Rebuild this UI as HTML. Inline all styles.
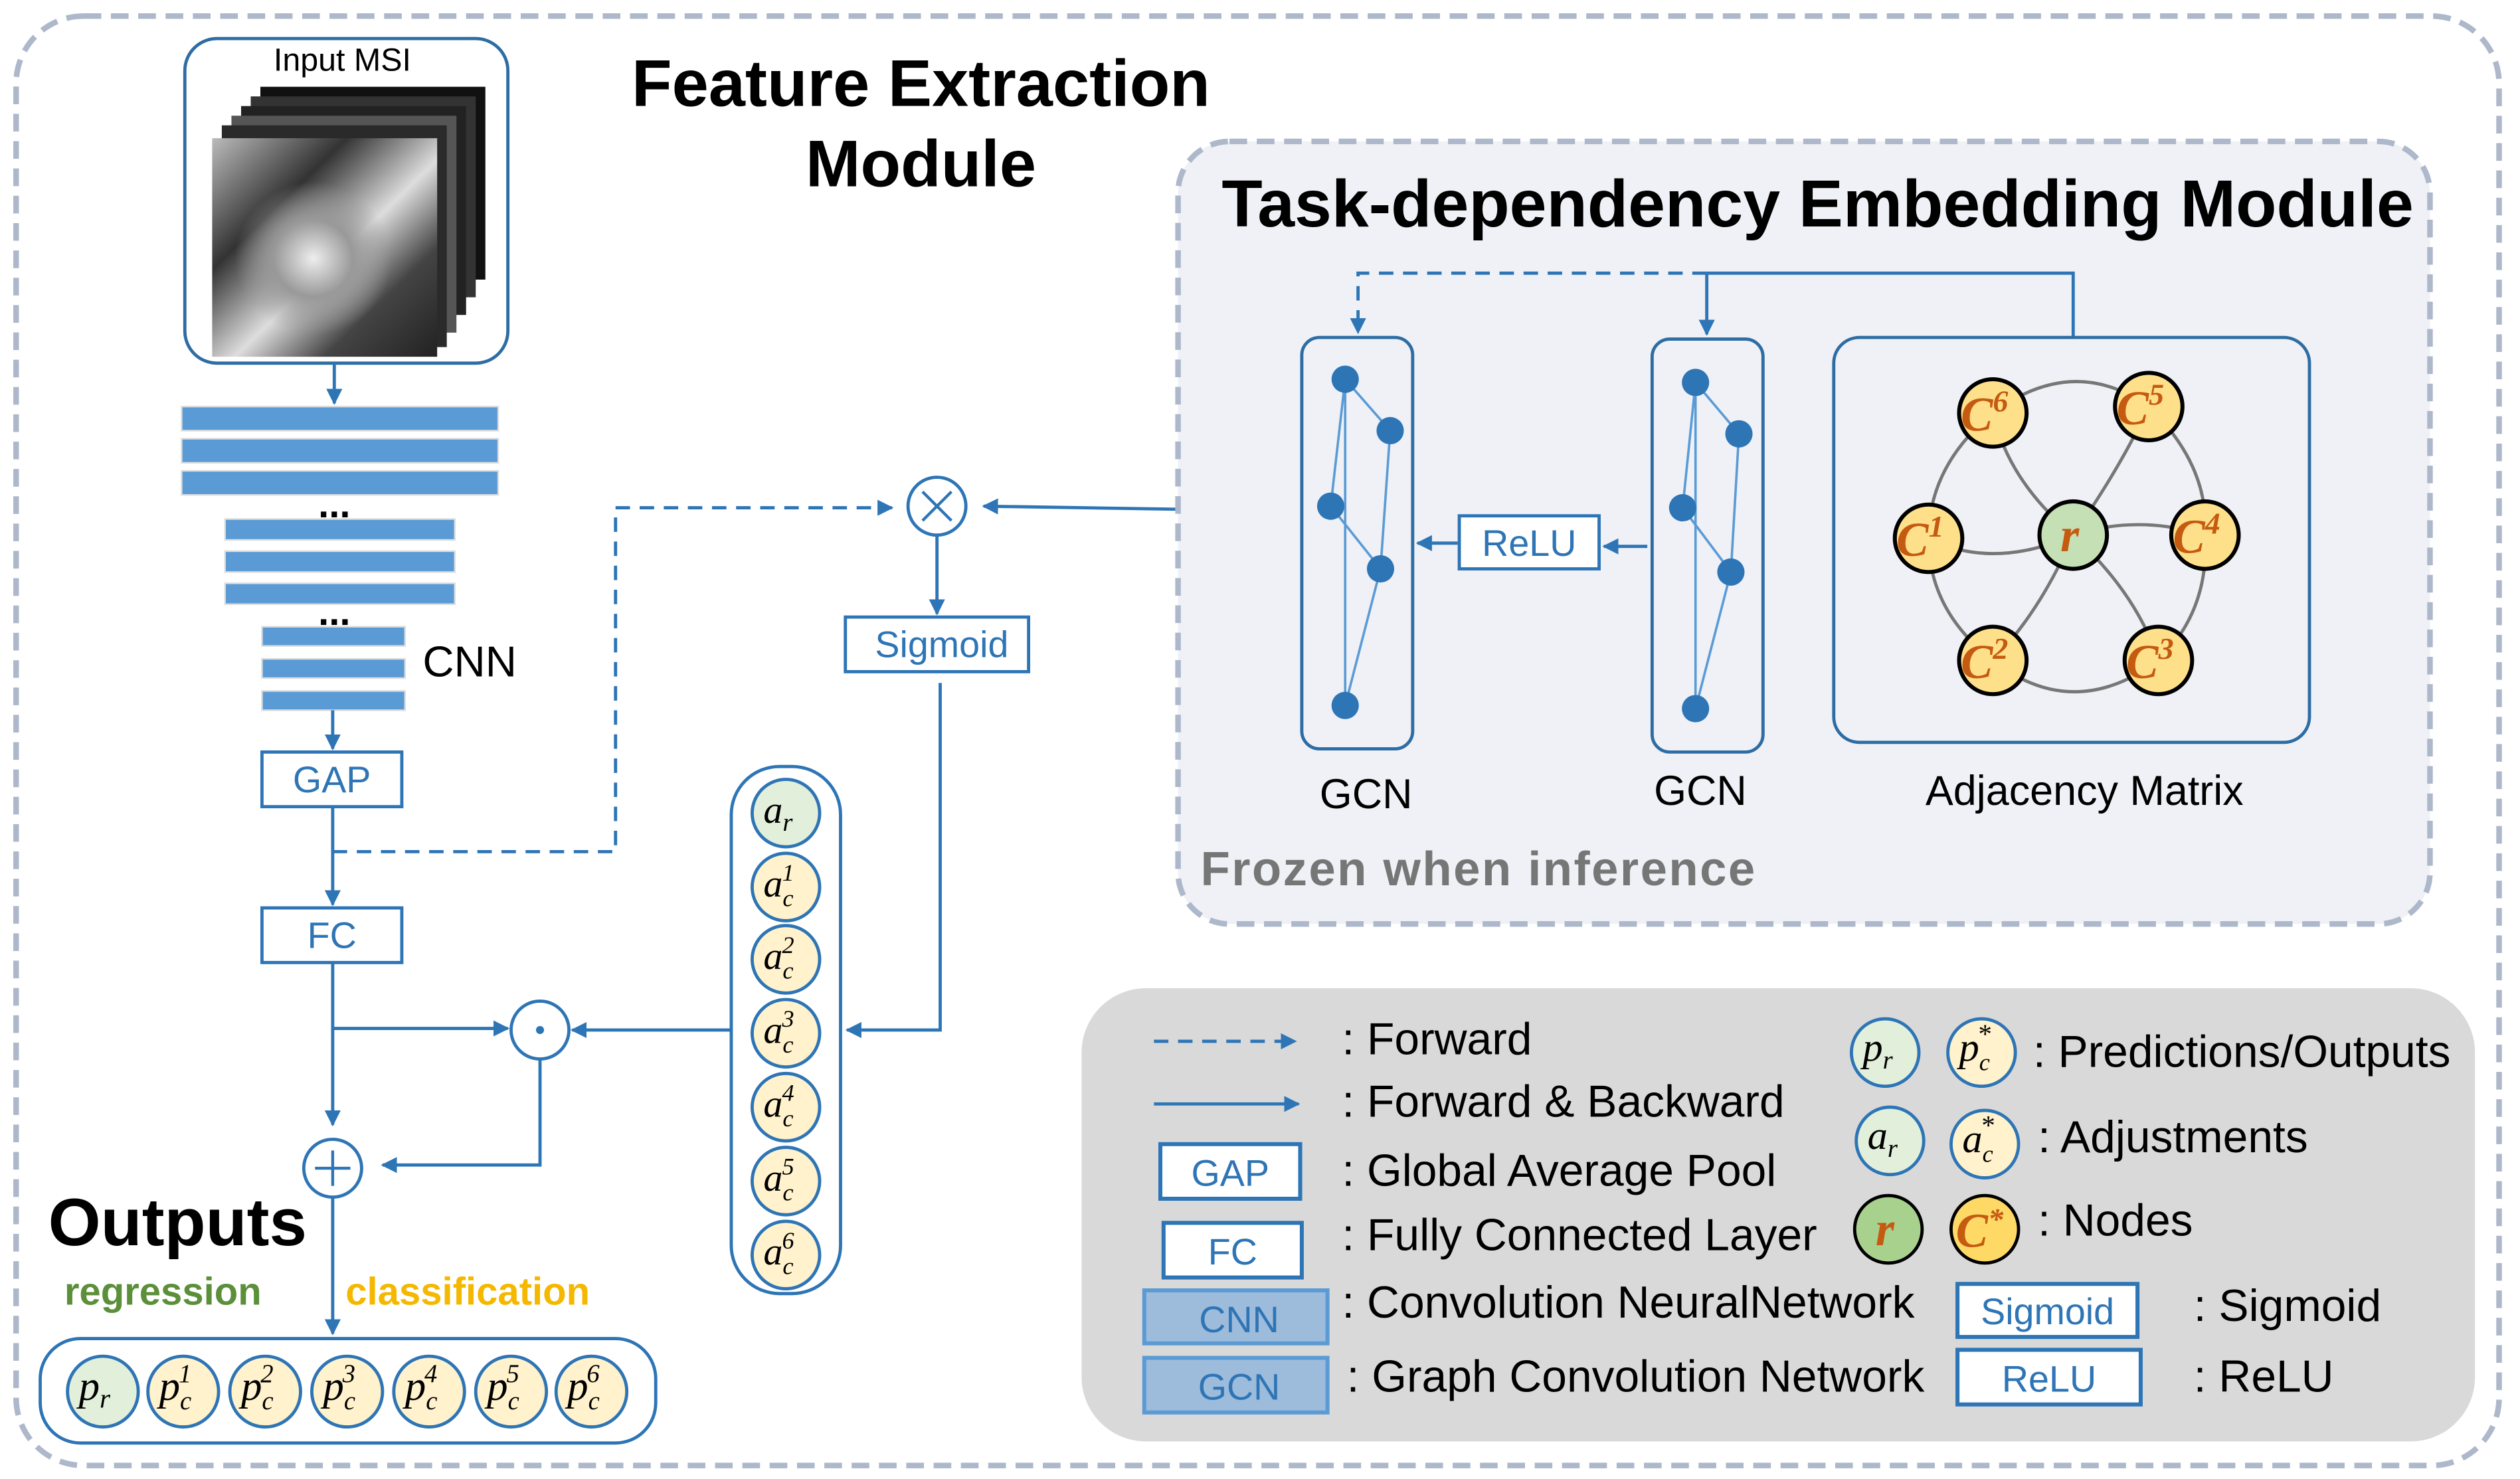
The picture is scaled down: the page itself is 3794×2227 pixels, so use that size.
<!DOCTYPE html>
<html><head><meta charset="utf-8"><style>
html,body{margin:0;padding:0;background:#fff}
svg{display:block}
text{font-family:"Liberation Sans",sans-serif}
.m text,.m tspan{font-family:"Liberation Serif",serif;font-style:italic}
</style></head><body>
<svg width="3794" height="2227" viewBox="0 0 1568 920.4" xmlns="http://www.w3.org/2000/svg">
<defs>
<marker id="a" viewBox="0 0 10 10" refX="9" refY="5" markerWidth="5" markerHeight="5" orient="auto"><path d="M0,0L10,5L0,10z" fill="#2e75b6"/></marker>
<linearGradient id="sat" x1="0" y1="0" x2="1" y2="1"><stop offset="0" stop-color="#bbb"/><stop offset="0.3" stop-color="#333"/><stop offset="0.55" stop-color="#ddd"/><stop offset="0.75" stop-color="#444"/><stop offset="1" stop-color="#222"/></linearGradient>
<radialGradient id="eye" cx="0.45" cy="0.55" r="0.35"><stop offset="0" stop-color="#eee"/><stop offset="0.5" stop-color="#999"/><stop offset="1" stop-color="#999" stop-opacity="0"/></radialGradient>
</defs>
<rect width="1568" height="920.4" fill="#fff"/>
<rect x="10" y="10" width="1545" height="902" rx="42" fill="none" stroke="#aeb8cb" stroke-width="3.5" stroke-dasharray="11 6"/>

<!-- Input MSI -->
<rect x="115" y="24" width="201" height="202" rx="20" fill="#fff" stroke="#2e6da4" stroke-width="2"/>
<text x="213" y="44" font-size="20" text-anchor="middle">Input MSI</text>
<g>
<rect x="162" y="54" width="140" height="120" fill="#111"/>
<rect x="156" y="60" width="140" height="125" fill="#333"/>
<rect x="150" y="66" width="140" height="130" fill="#222"/>
<rect x="144" y="72" width="140" height="135" fill="#555"/>
<rect x="138" y="78" width="140" height="138" fill="#2a2a2a"/>
<rect x="132" y="86" width="140" height="136" fill="url(#sat)"/>
<rect x="132" y="86" width="140" height="136" fill="url(#eye)"/>
</g>
<line x1="208" y1="226" x2="208" y2="251" stroke="#2e75b6" stroke-width="2" marker-end="url(#a)"/>
<g fill="#5b9bd5" stroke="#ddd" stroke-width="1">
<rect x="113" y="253" width="197" height="15"/><rect x="113" y="273" width="197" height="15"/><rect x="113" y="293" width="197" height="15"/>
<rect x="140" y="323" width="143" height="13"/><rect x="140" y="343" width="143" height="13"/><rect x="140" y="363" width="143" height="13"/>
<rect x="163" y="390" width="89" height="12"/><rect x="163" y="410" width="89" height="12"/><rect x="163" y="430" width="89" height="12"/>
</g>
<text x="208" y="322" font-size="24" font-weight="bold" text-anchor="middle">...</text>
<text x="208" y="389" font-size="24" font-weight="bold" text-anchor="middle">...</text>
<text x="263" y="421" font-size="27">CNN</text>
<line x1="207" y1="442" x2="207" y2="466" stroke="#2e75b6" stroke-width="2" marker-end="url(#a)"/>
<rect x="163" y="468" width="87" height="34" fill="#fff" stroke="#2e75b6" stroke-width="2"/>
<text x="206.5" y="493" font-size="23" fill="#2e75b6" text-anchor="middle">GAP</text>
<line x1="207" y1="502" x2="207" y2="563" stroke="#2e75b6" stroke-width="2" marker-end="url(#a)"/>
<rect x="163" y="565" width="87" height="34" fill="#fff" stroke="#2e75b6" stroke-width="2"/>
<text x="206.5" y="590" font-size="23" fill="#2e75b6" text-anchor="middle">FC</text>
<polyline points="207,530 383,530 383,316 555,316" fill="none" stroke="#2e75b6" stroke-width="2" stroke-dasharray="9 6" marker-end="url(#a)"/>
<circle cx="583" cy="315" r="18" fill="#fff" stroke="#2e75b6" stroke-width="2"/>
<path d="M574,306L592,324M592,306L574,324" stroke="#2e75b6" stroke-width="1.8"/>
<line x1="802" y1="318" x2="612" y2="315" stroke="#2e75b6" stroke-width="2" marker-end="url(#a)"/>
<line x1="583" y1="333" x2="583" y2="382" stroke="#2e75b6" stroke-width="2" marker-end="url(#a)"/>
<rect x="526" y="384" width="114" height="34" fill="#fff" stroke="#2e75b6" stroke-width="2"/>
<text x="586" y="409" font-size="23" fill="#2e75b6" text-anchor="middle">Sigmoid</text>
<polyline points="585,425 585,641 527,641" fill="none" stroke="#2e75b6" stroke-width="2" marker-end="url(#a)"/>

<!-- adjustments column -->
<rect x="455" y="477" width="68" height="328" rx="30" fill="#fff" stroke="#2e75b6" stroke-width="2"/>
<g stroke="#2e75b6" stroke-width="2">
<circle cx="489" cy="506" r="21" fill="#e2efda"/>
<circle cx="489" cy="552" r="21" fill="#fff2cc"/><circle cx="489" cy="597" r="21" fill="#fff2cc"/>
<circle cx="489" cy="643" r="21" fill="#fff2cc"/><circle cx="489" cy="689" r="21" fill="#fff2cc"/>
<circle cx="489" cy="735" r="21" fill="#fff2cc"/><circle cx="489" cy="781" r="21" fill="#fff2cc"/>
</g>
<g class="m" font-size="24">
<text x="475" y="512">a<tspan font-size="16" dy="5">r</tspan></text>
<text x="475" y="558">a<tspan font-size="15" dy="6">c</tspan><tspan font-size="15" dx="-7" dy="-16">1</tspan></text>
<text x="475" y="603">a<tspan font-size="15" dy="6">c</tspan><tspan font-size="15" dx="-7" dy="-16">2</tspan></text>
<text x="475" y="649">a<tspan font-size="15" dy="6">c</tspan><tspan font-size="15" dx="-7" dy="-16">3</tspan></text>
<text x="475" y="695">a<tspan font-size="15" dy="6">c</tspan><tspan font-size="15" dx="-7" dy="-16">4</tspan></text>
<text x="475" y="741">a<tspan font-size="15" dy="6">c</tspan><tspan font-size="15" dx="-7" dy="-16">5</tspan></text>
<text x="475" y="787">a<tspan font-size="15" dy="6">c</tspan><tspan font-size="15" dx="-7" dy="-16">6</tspan></text>
</g>
<line x1="455" y1="641" x2="356" y2="641" stroke="#2e75b6" stroke-width="2" marker-end="url(#a)"/>
<circle cx="336" cy="641" r="18" fill="#fff" stroke="#2e75b6" stroke-width="2"/>
<circle cx="336" cy="641" r="2.5" fill="#2e75b6"/>
<line x1="207" y1="599" x2="207" y2="700" stroke="#2e75b6" stroke-width="2" marker-end="url(#a)"/>
<line x1="207" y1="640" x2="316" y2="640" stroke="#2e75b6" stroke-width="2" marker-end="url(#a)"/>
<polyline points="336,659 336,725 238,725" fill="none" stroke="#2e75b6" stroke-width="2" marker-end="url(#a)"/>
<circle cx="207" cy="727" r="18" fill="#fff" stroke="#2e75b6" stroke-width="2"/>
<path d="M196,727H218M207,716V738" stroke="#2e75b6" stroke-width="1.8"/>
<line x1="207" y1="745" x2="207" y2="830" stroke="#2e75b6" stroke-width="2" marker-end="url(#a)"/>
<text x="30" y="775" font-size="42" font-weight="bold">Outputs</text>
<text x="40" y="812" font-size="24" font-weight="bold" fill="#5b8f3a">regression</text>
<text x="215" y="812" font-size="24" font-weight="bold" fill="#f5b800">classification</text>
<rect x="25" y="833" width="383" height="65" rx="25" fill="#fff" stroke="#2e75b6" stroke-width="2"/>
<g stroke="#2e75b6" stroke-width="2">
<circle cx="64" cy="866" r="22" fill="#e2efda"/>
<circle cx="114" cy="866" r="22" fill="#fff2cc"/><circle cx="165" cy="866" r="22" fill="#fff2cc"/>
<circle cx="216" cy="866" r="22" fill="#fff2cc"/><circle cx="267" cy="866" r="22" fill="#fff2cc"/>
<circle cx="318" cy="866" r="22" fill="#fff2cc"/><circle cx="368" cy="866" r="22" fill="#fff2cc"/>
</g>
<g class="m" font-size="26">
<text x="49" y="871">p<tspan font-size="17" dy="5">r</tspan></text>
<text x="99" y="871">p<tspan font-size="16" dy="6">c</tspan><tspan font-size="16" dx="-8" dy="-17">1</tspan></text>
<text x="150" y="871">p<tspan font-size="16" dy="6">c</tspan><tspan font-size="16" dx="-8" dy="-17">2</tspan></text>
<text x="201" y="871">p<tspan font-size="16" dy="6">c</tspan><tspan font-size="16" dx="-8" dy="-17">3</tspan></text>
<text x="252" y="871">p<tspan font-size="16" dy="6">c</tspan><tspan font-size="16" dx="-8" dy="-17">4</tspan></text>
<text x="303" y="871">p<tspan font-size="16" dy="6">c</tspan><tspan font-size="16" dx="-8" dy="-17">5</tspan></text>
<text x="353" y="871">p<tspan font-size="16" dy="6">c</tspan><tspan font-size="16" dx="-8" dy="-17">6</tspan></text>
</g>
<text x="573" y="66" font-size="41" font-weight="bold" text-anchor="middle">Feature Extraction</text>
<text x="573" y="116" font-size="41" font-weight="bold" text-anchor="middle">Module</text>

<!-- Task-dependency module -->
<rect x="733" y="88" width="779" height="487" rx="32" fill="#eff1f6" stroke="#aeb8cb" stroke-width="3.5" stroke-dasharray="11 6"/>
<text x="1131" y="141" font-size="41.5" font-weight="bold" text-anchor="middle">Task-dependency Embedding Module</text>
<text x="747" y="551" font-size="30" font-weight="bold" fill="#767676" letter-spacing="1">Frozen when inference</text>
<polyline points="1290,210 1290,170 1062,170" fill="none" stroke="#2e75b6" stroke-width="2"/>
<line x1="1062" y1="170" x2="1062" y2="208" stroke="#2e75b6" stroke-width="2" marker-end="url(#a)"/>
<polyline points="1062,170 845,170 845,207" fill="none" stroke="#2e75b6" stroke-width="2" stroke-dasharray="9 6" marker-end="url(#a)"/>
<rect x="810" y="210" width="69" height="256" rx="11" fill="none" stroke="#2e6da4" stroke-width="2"/>
<rect x="1028" y="211" width="69" height="257" rx="11" fill="none" stroke="#2e6da4" stroke-width="2"/>
<g stroke="#5b9bd5" stroke-width="1.5" fill="none">
<path d="M837,236L865,268L859,354L837,439L837,236L828,315L859,354"/>
<path d="M1055,238L1082,270L1077,356L1055,441L1055,238L1047,316L1077,356"/>
</g>
<g fill="#2e75b6">
<circle cx="837" cy="236" r="8.5"/><circle cx="865" cy="268" r="8.5"/><circle cx="828" cy="315" r="8.5"/><circle cx="859" cy="354" r="8.5"/><circle cx="837" cy="439" r="8.5"/>
<circle cx="1055" cy="238" r="8.5"/><circle cx="1082" cy="270" r="8.5"/><circle cx="1047" cy="316" r="8.5"/><circle cx="1077" cy="356" r="8.5"/><circle cx="1055" cy="441" r="8.5"/>
</g>
<line x1="1025" y1="340" x2="998" y2="340" stroke="#2e75b6" stroke-width="2" marker-end="url(#a)"/>
<rect x="908" y="321" width="87" height="33" fill="#fff" stroke="#2e75b6" stroke-width="2"/>
<text x="951.5" y="346" font-size="23" fill="#2e75b6" text-anchor="middle">ReLU</text>
<line x1="907" y1="338" x2="882" y2="338" stroke="#2e75b6" stroke-width="2" marker-end="url(#a)"/>
<rect x="1141" y="210" width="296" height="252" rx="16" fill="none" stroke="#2e6da4" stroke-width="2"/>
<g stroke="#777" stroke-width="2" fill="none">
<path d="M1240,257Q1290,220 1337,253"/>
<path d="M1337,253Q1375,290 1372,333"/>
<path d="M1372,333Q1375,380 1343,411"/>
<path d="M1343,411Q1290,450 1240,411"/>
<path d="M1240,411Q1200,380 1200,335"/>
<path d="M1200,335Q1200,290 1240,257"/>
<path d="M1290,333Q1250,300 1240,257"/>
<path d="M1290,333Q1320,290 1337,253"/>
<path d="M1290,333Q1330,320 1372,333"/>
<path d="M1290,333Q1330,370 1343,411"/>
<path d="M1290,333Q1270,380 1240,411"/>
<path d="M1290,333Q1240,355 1200,335"/>
</g>
<g stroke="#000" stroke-width="2.5" fill="#ffe08a">
<circle cx="1240" cy="257" r="21"/><circle cx="1337" cy="253" r="21"/><circle cx="1372" cy="333" r="21"/>
<circle cx="1343" cy="411" r="21"/><circle cx="1240" cy="411" r="21"/><circle cx="1200" cy="335" r="21"/>
<circle cx="1290" cy="333" r="21" fill="#c5e0b4"/>
</g>
<g class="m" font-weight="bold" fill="#c55a11" font-size="30">
<text x="1220" y="268">C<tspan font-size="19" dy="-12">6</tspan></text>
<text x="1317" y="264">C<tspan font-size="19" dy="-12">5</tspan></text>
<text x="1352" y="344">C<tspan font-size="19" dy="-12">4</tspan></text>
<text x="1323" y="422">C<tspan font-size="19" dy="-12">3</tspan></text>
<text x="1220" y="422">C<tspan font-size="19" dy="-12">2</tspan></text>
<text x="1180" y="346">C<tspan font-size="19" dy="-12">1</tspan></text>
<text x="1282" y="343">r</text>
</g>
<text x="850" y="503" font-size="26" text-anchor="middle">GCN</text>
<text x="1058" y="501" font-size="26" text-anchor="middle">GCN</text>
<text x="1297" y="501" font-size="26" text-anchor="middle">Adjacency Matrix</text>

<!-- Legend -->
<rect x="673" y="615" width="867" height="282" rx="40" fill="#d9d9d9"/>
<line x1="718" y1="648" x2="806" y2="648" stroke="#2e75b6" stroke-width="2" stroke-dasharray="9 6" marker-end="url(#a)"/>
<line x1="718" y1="687" x2="808" y2="687" stroke="#2e75b6" stroke-width="2" marker-end="url(#a)"/>
<g font-size="28">
<text x="835" y="656">: Forward</text>
<text x="835" y="695">: Forward &amp; Backward</text>
<text x="835" y="738">: Global Average Pool</text>
<text x="835" y="778">: Fully Connected Layer</text>
<text x="835" y="820">: Convolution NeuralNetwork</text>
<text x="838" y="866">: Graph Convolution Network</text>
<text x="1265" y="664">: Predictions/Outputs</text>
<text x="1268" y="717">: Adjustments</text>
<text x="1268" y="769">: Nodes</text>
<text x="1365" y="822">: Sigmoid</text>
<text x="1365" y="866">: ReLU</text>
</g>
<rect x="722" y="712" width="87" height="34" fill="#fff" stroke="#2e75b6" stroke-width="2.5"/>
<text x="765.5" y="738" font-size="23" fill="#2e75b6" text-anchor="middle">GAP</text>
<rect x="724" y="761" width="86" height="34" fill="#fff" stroke="#2e75b6" stroke-width="2.5"/>
<text x="767" y="787" font-size="23" fill="#2e75b6" text-anchor="middle">FC</text>
<rect x="712" y="803" width="114" height="33" fill="#9dbbdb" stroke="#5b9bd5" stroke-width="2.5"/>
<text x="771" y="829" font-size="23" fill="#2e75b6" text-anchor="middle">CNN</text>
<rect x="712" y="845" width="114" height="34" fill="#9dbbdb" stroke="#5b9bd5" stroke-width="2.5"/>
<text x="771" y="871" font-size="23" fill="#2e75b6" text-anchor="middle">GCN</text>
<rect x="1218" y="799" width="112" height="33" fill="#fff" stroke="#2e75b6" stroke-width="2.5"/>
<text x="1274" y="824" font-size="23" fill="#2e75b6" text-anchor="middle">Sigmoid</text>
<rect x="1218" y="840" width="114" height="34" fill="#fff" stroke="#2e75b6" stroke-width="2.5"/>
<text x="1275" y="866" font-size="23" fill="#2e75b6" text-anchor="middle">ReLU</text>
<g stroke="#2e75b6" stroke-width="2">
<circle cx="1173" cy="655" r="21" fill="#e2efda"/><circle cx="1233" cy="655" r="21" fill="#fff2cc"/>
<circle cx="1176" cy="710" r="21" fill="#e2efda"/><circle cx="1235" cy="712" r="21" fill="#fff2cc"/>
</g>
<circle cx="1175" cy="765" r="21" fill="#a9d18e" stroke="#000" stroke-width="2"/>
<circle cx="1235" cy="765" r="21" fill="#ffd966" stroke="#000" stroke-width="2"/>
<g class="m" font-size="25">
<text x="1159" y="660">p<tspan font-size="16" dy="5">r</tspan></text>
<text x="1219" y="660">p<tspan font-size="15" dy="6">c</tspan><tspan font-size="17" dx="-8" dy="-17">*</tspan></text>
<text x="1162" y="715">a<tspan font-size="16" dy="5">r</tspan></text>
<text x="1221" y="717">a<tspan font-size="15" dy="6">c</tspan><tspan font-size="17" dx="-8" dy="-17">*</tspan></text>
</g>
<g class="m" font-weight="bold" fill="#c55a11" font-size="30">
<text x="1167" y="775">r</text>
<text x="1217" y="776">C<tspan font-size="19" dy="-11">*</tspan></text>
</g>
</svg>
</body></html>
